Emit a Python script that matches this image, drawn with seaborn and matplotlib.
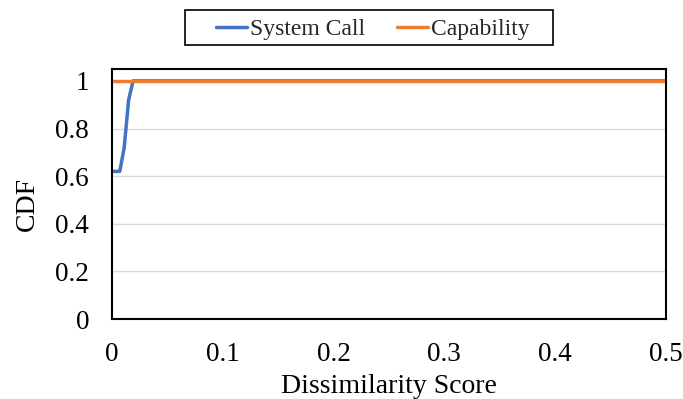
import matplotlib
matplotlib.use("Agg")
import matplotlib.pyplot as plt
from matplotlib.patches import Rectangle
import seaborn as sns
import pandas as pd

syscall_x = [0.0, 0.007, 0.011, 0.015, 0.019, 0.5]
syscall_y = [0.62, 0.62, 0.72, 0.92, 1.0, 1.0]
cap_x = [0.0, 0.5]
cap_y = [1.0, 1.0]
xticks = [0, 0.1, 0.2, 0.3, 0.4, 0.5]
yticks = [0, 0.2, 0.4, 0.6, 0.8, 1.0]

sns.set_theme(style="white")
plt.rcParams['font.family'] = ['Liberation Serif', 'DejaVu Serif']

df = pd.concat([
    pd.DataFrame({"x": syscall_x, "y": syscall_y, "s": "System Call"}),
    pd.DataFrame({"x": cap_x, "y": cap_y, "s": "Capability"}),
])

fig = plt.figure(figsize=(6.83, 3.99), dpi=100)
ax = fig.add_axes([0.164, 0.2005, 0.811, 0.6266])
sns.lineplot(data=df, x="x", y="y", hue="s", palette={"System Call": "#4472C4", "Capability": "#ED7D31"},
             linewidth=2.5, ax=ax, sort=False)
ax.set_xlim(0, 0.5)
ax.set_ylim(0, 1.05)
ax.set_xticks(xticks)
ax.set_xticklabels(["0", "0.1", "0.2", "0.3", "0.4", "0.5"])
ax.set_yticks(yticks)
ax.set_yticklabels(["0", "0.2", "0.4", "0.6", "0.8", "1"])
ax.yaxis.grid(True, color="#D9D9D9", linewidth=1)
ax.set_axisbelow(True)
for s in ax.spines.values():
    s.set_color("black")
    s.set_linewidth(1.5)
ax.tick_params(axis="both", direction="out", length=5.5, width=1.2, color="black", labelsize=19.5, labelcolor="black")
ax.tick_params(axis="x", pad=11)
ax.tick_params(axis="y", pad=11)
ax.set_xlabel("Dissimilarity Score", fontsize=20, color="black", labelpad=5)
ax.set_ylabel("CDF", fontsize=20, color="black")
ax.yaxis.set_label_coords(-0.131, 0.46)
handles, labels = ax.get_legend_handles_labels()
leg = ax.legend(handles, labels, loc="center", bbox_to_anchor=(0.471, 1.159), ncol=2, frameon=False,
                fontsize=17, handlelength=1.3, handletextpad=0.15,
                columnspacing=1.35, borderpad=0.3, borderaxespad=0)
fig.patches.append(Rectangle((185 / 683, (399 - 45) / 399), 368 / 683, 35 / 399,
                             transform=fig.transFigure, fill=False, edgecolor="black", linewidth=1.2))
fig.savefig("out.png", dpi=100)
